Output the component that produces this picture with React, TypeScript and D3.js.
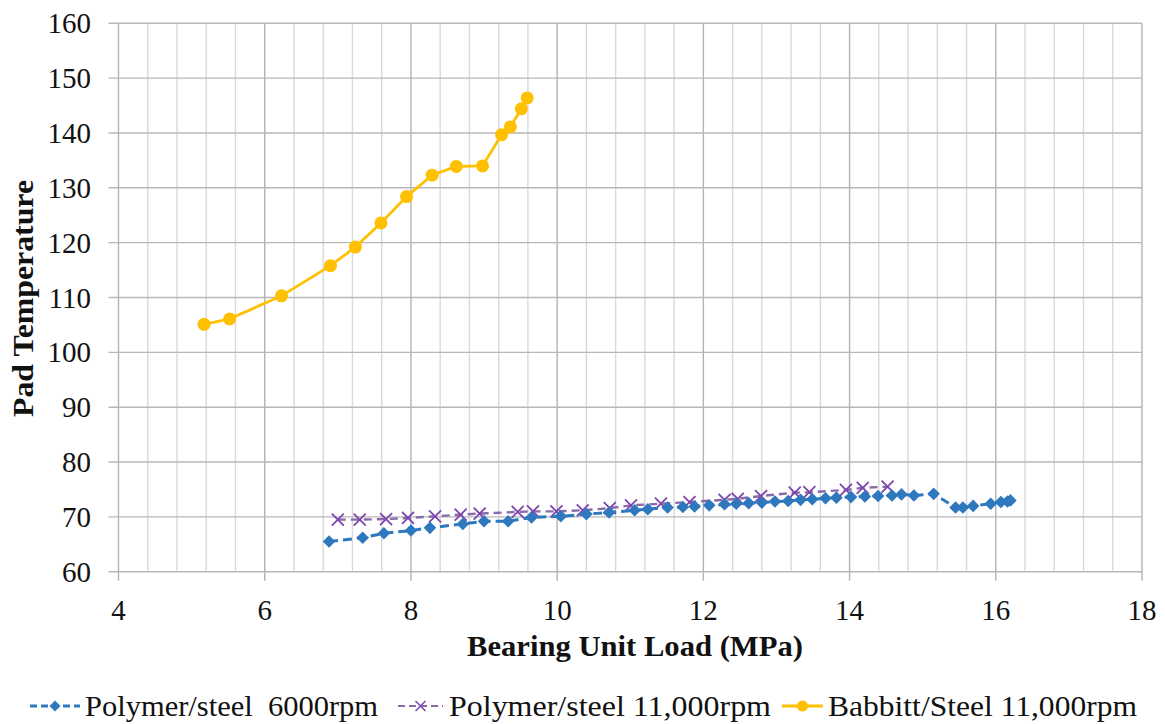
import React from "react";
import * as d3 from "d3";

const blueX = [6.88, 7.34, 7.63, 8.0, 8.26, 8.71, 9.0, 9.33, 9.65, 10.05, 10.4, 10.71, 11.06, 11.24, 11.51, 11.72, 11.88, 12.08, 12.29, 12.45, 12.62, 12.8, 12.98, 13.16, 13.33, 13.49, 13.67, 13.82, 14.02, 14.21, 14.39, 14.58, 14.71, 14.88, 15.15, 15.45, 15.55, 15.69, 15.93, 16.07, 16.16, 16.2];
const blueY = [65.5, 66.2, 67.0, 67.5, 68.0, 68.7, 69.2, 69.2, 69.9, 70.1, 70.5, 70.8, 71.2, 71.4, 71.7, 71.8, 71.9, 72.1, 72.3, 72.4, 72.5, 72.6, 72.8, 72.9, 73.1, 73.2, 73.4, 73.5, 73.6, 73.7, 73.8, 73.9, 74.1, 73.9, 74.2, 71.7, 71.7, 72.0, 72.4, 72.7, 72.8, 73.0];

const purpleX = [7.0, 7.3, 7.66, 7.96, 8.33, 8.68, 8.94, 9.46, 9.67, 9.99, 10.35, 10.72, 11.01, 11.42, 11.81, 12.29, 12.47, 12.79, 13.25, 13.45, 13.95, 14.18, 14.52];
const purpleY = [69.5, 69.5, 69.6, 69.8, 70.1, 70.4, 70.6, 70.9, 71.0, 71.0, 71.2, 71.6, 72.1, 72.4, 72.7, 73.1, 73.3, 73.8, 74.4, 74.5, 74.9, 75.3, 75.5];

const orangeX = [5.17, 5.52, 6.23, 6.9, 7.24, 7.59, 7.94, 8.29, 8.62, 8.98, 9.24, 9.36, 9.51, 9.59];
const orangeY = [105.1, 106.1, 110.3, 115.8, 119.2, 123.6, 128.4, 132.3, 133.9, 134.0, 139.7, 141.1, 144.4, 146.4];

const xTicks = [4, 6, 8, 10, 12, 14, 16, 18];
const yTicks = [60, 70, 80, 90, 100, 110, 120, 130, 140, 150, 160];
const legendLabels = ["Polymer/steel  6000rpm", "Polymer/steel 11,000rpm", "Babbitt/Steel 11,000rpm"];

const BLUE = "#2E78BE";
const PURPLE_M = "#7E45AE";
const PURPLE_L = "#8A6AA8";
const ORANGE = "#FFC000";
const FONT = "'Liberation Serif', 'Times New Roman', serif";

const L = 118.5, R = 1142, T = 23.3, B = 571.7;

export default function App() {
  const x = d3.scaleLinear().domain([4, 18]).range([L, R]);
  const y = d3.scaleLinear().domain([60, 160]).range([B, T]);
  const minor = d3.range(0, 36).map((i) => 4 + i * 0.4);

  const line = d3.line<[number, number]>().x((d) => x(d[0])).y((d) => y(d[1]));
  const blue = blueX.map((v, i) => [v, blueY[i]] as [number, number]);
  const purple = purpleX.map((v, i) => [v, purpleY[i]] as [number, number]);
  const orange = orangeX.map((v, i) => [v, orangeY[i]] as [number, number]);

  const diamond = (cx: number, cy: number, r: number) =>
    `M${cx},${cy - r}L${cx + r},${cy}L${cx},${cy + r}L${cx - r},${cy}Z`;
  const cross = (cx: number, cy: number, r: number) =>
    `M${cx - r},${cy - r}L${cx + r},${cy + r}M${cx - r},${cy + r}L${cx + r},${cy - r}`;

  const ly = 706;
  return (
    <svg width={1165} height={724} style={{ position: "absolute", left: 0, top: 0, background: "#fff" }}>
      <rect x={0} y={0} width={1165} height={724} fill="#fff" />
      {minor.map((v, i) => {
        const major = i % 5 === 0;
        return (
          <line key={"v" + i} x1={x(v)} x2={x(v)} y1={T} y2={major ? B + 9 : B}
            stroke={major ? "#b3b3b3" : "#d9d9d9"} strokeWidth={1.4} />
        );
      })}
      {yTicks.map((v) => (
        <line key={"h" + v} x1={L - 10} x2={R} y1={y(v)} y2={y(v)} stroke="#b8b8b8" strokeWidth={1.4} />
      ))}
      {yTicks.map((v) => (
        <text key={"yl" + v} x={91} y={y(v)} dy="0.35em" textAnchor="end" fontFamily={FONT} fontSize={29} fill="#111">{v}</text>
      ))}
      {xTicks.map((v) => (
        <text key={"xl" + v} x={x(v)} y={620} textAnchor="middle" fontFamily={FONT} fontSize={29} fill="#111">{v}</text>
      ))}
      <text x={467} y={656} textLength={336} lengthAdjust="spacingAndGlyphs" fontFamily={FONT} fontSize={29} fontWeight="bold" fill="#111">Bearing Unit Load (MPa)</text>
      <text transform={`translate(33,417) rotate(-90)`} textLength={237} lengthAdjust="spacingAndGlyphs" fontFamily={FONT} fontSize={29} fontWeight="bold" fill="#111">Pad Temperature</text>

      <path d={line(orange) || ""} fill="none" stroke={ORANGE} strokeWidth={2.8} />
      {orange.map((d, i) => (
        <circle key={"o" + i} cx={x(d[0])} cy={y(d[1])} r={6.5} fill={ORANGE} />
      ))}
      <path d={line(purple) || ""} fill="none" stroke={PURPLE_L} strokeWidth={2.4} strokeDasharray="8,5" />
      {purple.map((d, i) => (
        <path key={"p" + i} d={cross(x(d[0]), y(d[1]), 6)} stroke={PURPLE_M} strokeWidth={1.8} fill="none" />
      ))}
      <path d={line(blue) || ""} fill="none" stroke={BLUE} strokeWidth={3} strokeDasharray="9,5" />
      {blue.map((d, i) => (
        <path key={"b" + i} d={diamond(x(d[0]), y(d[1]), 6.3)} fill={BLUE} />
      ))}

      <g>
        <line x1={30} x2={80} y1={ly} y2={ly} stroke={BLUE} strokeWidth={2.8} strokeDasharray="7,4" />
        <path d={diamond(55, ly, 5.5)} fill={BLUE} />
        <text x={85} y={ly} dy="0.35em" textLength={293} lengthAdjust="spacingAndGlyphs" fontFamily={FONT} fontSize={29} fill="#111" style={{ whiteSpace: "pre" }}>{legendLabels[0]}</text>
        <line x1={398} x2={443} y1={ly} y2={ly} stroke={PURPLE_L} strokeWidth={2.2} strokeDasharray="7,4" />
        <path d={cross(420.5, ly, 5)} stroke={PURPLE_M} strokeWidth={1.5} fill="none" />
        <text x={449} y={ly} dy="0.35em" textLength={322} lengthAdjust="spacingAndGlyphs" fontFamily={FONT} fontSize={29} fill="#111">{legendLabels[1]}</text>
        <line x1={782} x2={823} y1={ly} y2={ly} stroke={ORANGE} strokeWidth={2.8} />
        <circle cx={802.5} cy={ly} r={5.5} fill={ORANGE} />
        <text x={828} y={ly} dy="0.35em" textLength={309} lengthAdjust="spacingAndGlyphs" fontFamily={FONT} fontSize={29} fill="#111">{legendLabels[2]}</text>
      </g>
    </svg>
  );
}
